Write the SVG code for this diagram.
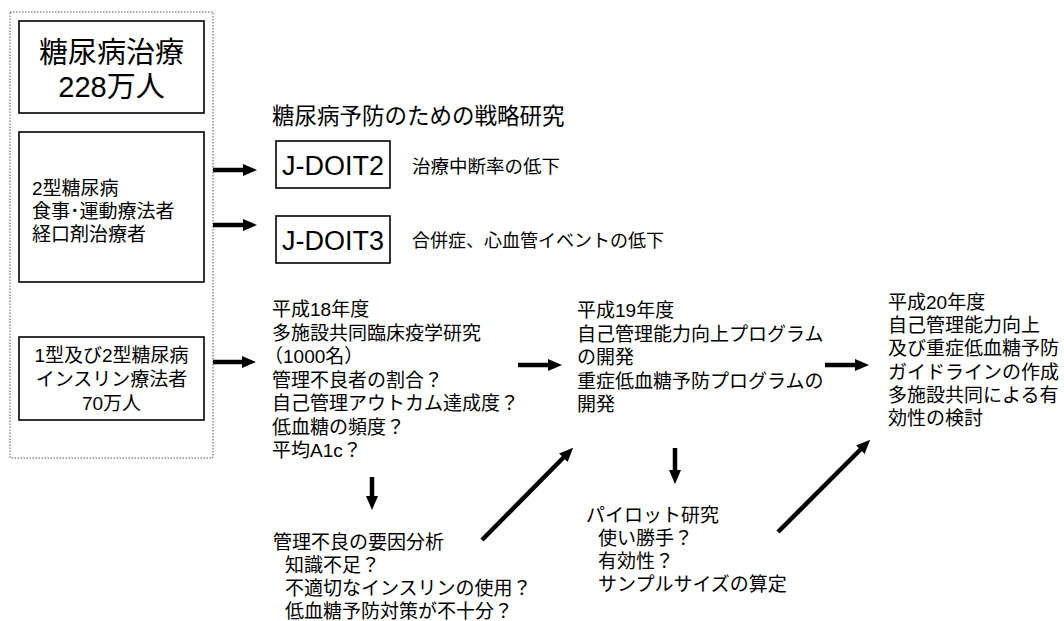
<svg xmlns="http://www.w3.org/2000/svg" width="1064" height="621" viewBox="0 0 1064 621">
<style>
text{font-family:"Liberation Sans","Noto Sans CJK JP",sans-serif;fill:#000}
.box{fill:#fff;stroke:#000;stroke-width:1.6}
.t19{font-size:19px}
.t18{font-size:19px}
.arr{stroke:#000;stroke-width:4.5;fill:none;marker-end:url(#ah)}
</style>
<defs>
<marker id="ah" viewBox="0 0 14 12" markerWidth="14" markerHeight="12" refX="1" refY="6" orient="auto" markerUnits="userSpaceOnUse">
<path d="M0,0 L14,6 L0,12 Z" fill="#000"/>
</marker>
</defs>
<rect width="1064" height="621" fill="#fff"/>
<g id="outer">
<rect x="10" y="12" width="203" height="446" fill="none" stroke="#555" stroke-width="1" stroke-dasharray="1.5 1.5"/>
</g>
<g id="total">
<rect class="box" x="19" y="21" width="185" height="92"/>
<text x="111.5" y="63" font-size="29" text-anchor="middle">糖尿病治療</text>
<text x="111.5" y="97" font-size="29" text-anchor="middle">228万人</text>
</g>
<g id="type2">
<rect class="box" x="19" y="132" width="185" height="150"/>
<text class="t18" x="32" y="195">2型糖尿病</text>
<text class="t18" x="32" y="218">食事･運動療法者</text>
<text class="t18" x="32" y="241">経口剤治療者</text>
</g>
<g id="insulin">
<rect class="box" x="19" y="337" width="185" height="83"/>
<text class="t18" x="111.5" y="362" text-anchor="middle">1型及び2型糖尿病</text>
<text class="t18" x="111.5" y="386" text-anchor="middle">インスリン療法者</text>
<text class="t18" x="111.5" y="410" text-anchor="middle">70万人</text>
</g>
<g id="header">
<text x="272" y="124" font-size="22.5">糖尿病予防のための戦略研究</text>
</g>
<g id="jdoit2">
<rect class="box" x="276" y="141" width="114" height="47"/>
<text x="333" y="175" font-size="27" text-anchor="middle">J-DOIT2</text>
<text x="412" y="173" font-size="18.5">治療中断率の低下</text>
</g>
<g id="jdoit3">
<rect class="box" x="276" y="216" width="114" height="47"/>
<text x="333" y="250" font-size="27" text-anchor="middle">J-DOIT3</text>
<text x="412" y="247" font-size="18">合併症、心血管イベントの低下</text>
</g>
<g id="h18">
<text class="t19" x="272" y="316">平成18年度</text>
<text class="t19" x="272" y="339.5">多施設共同臨床疫学研究</text>
<text class="t19" x="264" y="363">（1000名）</text>
<text class="t19" x="272" y="386.5">管理不良者の割合？</text>
<text class="t19" x="272" y="410">自己管理アウトカム達成度？</text>
<text class="t19" x="272" y="433.5">低血糖の頻度？</text>
<text class="t19" x="272" y="457">平均A1c？</text>
</g>
<g id="factor">
<text class="t19" x="273" y="549">管理不良の要因分析</text>
<text class="t19" x="285" y="572">知識不足？</text>
<text class="t19" x="285" y="595">不適切なインスリンの使用？</text>
<text class="t19" x="285" y="618">低血糖予防対策が不十分？</text>
</g>
<g id="h19">
<text class="t19" x="577" y="317">平成19年度</text>
<text class="t19" x="577" y="340.5">自己管理能力向上プログラム</text>
<text class="t19" x="577" y="364">の開発</text>
<text class="t19" x="577" y="387.5">重症低血糖予防プログラムの</text>
<text class="t19" x="577" y="411">開発</text>
</g>
<g id="pilot">
<text class="t19" x="586" y="522">パイロット研究</text>
<text class="t19" x="598" y="545">使い勝手？</text>
<text class="t19" x="598" y="568">有効性？</text>
<text class="t19" x="598" y="591">サンプルサイズの算定</text>
</g>
<g id="h20">
<text class="t19" x="888" y="309">平成20年度</text>
<text class="t19" x="888" y="332">自己管理能力向上</text>
<text class="t19" x="888" y="355">及び重症低血糖予防</text>
<text class="t19" x="888" y="379">ガイドラインの作成</text>
<text class="t19" x="888" y="402">多施設共同による有</text>
<text class="t19" x="888" y="425">効性の検討</text>
</g>
<g id="connectors">
<path class="arr" d="M213,170 L244,170"/>
<path class="arr" d="M213,225 L244,225"/>
<path class="arr" d="M213,362 L243,362"/>
<path class="arr" d="M518,365 L549,365"/>
<path class="arr" d="M825,365 L856,365"/>
<path class="arr" d="M372,477 L372,497"/>
<path class="arr" d="M675,448 L675,471"/>
<path class="arr" d="M482,540 L564,457"/>
<path class="arr" d="M778,532 L861,449"/>
</g>
</svg>
